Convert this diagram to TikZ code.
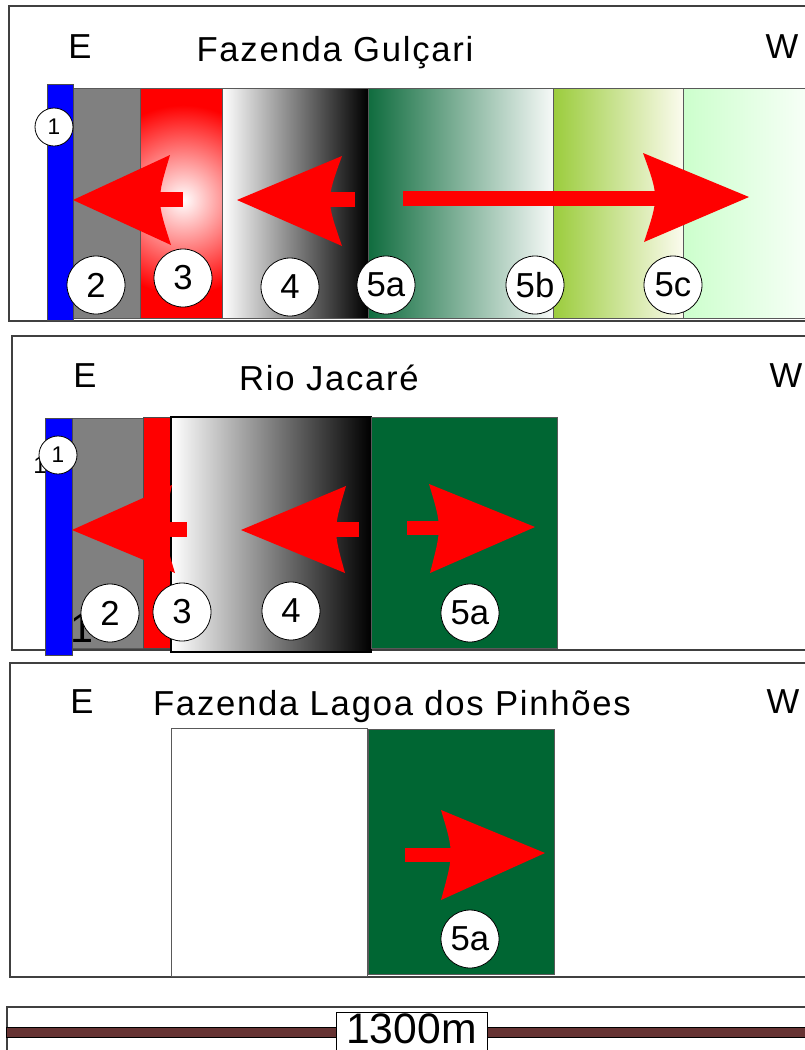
\documentclass[tikz,border=0pt]{standalone}
\usepackage{fontspec}
\setmainfont{Liberation Sans}
\newfontfamily\spaced[LetterSpace=5]{Liberation Sans}
\definecolor{dg}{RGB}{0,102,51}
\definecolor{gA}{RGB}{15,108,62}
\definecolor{gAr}{RGB}{246,249,247}
\definecolor{yg}{RGB}{155,204,60}
\definecolor{ygr}{RGB}{251,251,238}
\definecolor{lg}{RGB}{204,255,204}
\definecolor{barc}{RGB}{102,51,51}
\definecolor{midgray}{RGB}{128,128,128}
\begin{document}
\begin{tikzpicture}[x=0.75pt,y=-0.75pt,
  lbl/.style={circle, draw=black, fill=white, line width=0.6pt, inner sep=0pt, minimum size=43.5pt, font=\fontsize{26}{28}\selectfont},
  slbl/.style={circle, draw=black, fill=white, line width=0.6pt, inner sep=0pt, minimum size=28.5pt, font=\fontsize{17}{19}\selectfont},
  ttl/.style={anchor=base, inner sep=0pt, font=\spaced\fontsize{26}{28}\selectfont},
  band/.style={draw=black!65, line width=0.6pt},
  panel/.style={draw=black!75, line width=1pt},
  arr/.style={fill=red, draw=none}]
\useasboundingbox (0,0) rectangle (805,1050);
\clip (0,0) rectangle (805,1050);
\fill[white] (0,0) rectangle (805,1050);

% ---------------- Panel 1: Fazenda Gulcari
\draw[panel] (9,6) rectangle (830,321);
\filldraw[fill=midgray, band] (73,88) rectangle (140,318);
\begin{scope}
  \clip (140,88) rectangle (222,318);
  \fill[red] (140,88) rectangle (222,318);
  \shade[inner color=white, outer color=red] (183,200) circle[radius=95];
\end{scope}
\draw[band] (140,88) rectangle (222,318);
\shadedraw[left color=white, right color=black, band] (222,88) rectangle (368,318);
\shadedraw[left color=gA, right color=gAr, band] (368,88) rectangle (553,318);
\shadedraw[left color=yg, right color=ygr, band] (553,88) rectangle (683,318);
\shadedraw[left color=lg, right color=white, band] (683,88) rectangle (830,318);
\filldraw[fill=blue, draw=black!70, line width=0.6pt] (47,84) rectangle (73,320);

% arrows
\fill[arr] (73,200) -- (170,155) .. controls (156.5,200) .. (171,245) -- cycle;
\fill[arr] (155,192) rectangle (183,207);
\fill[arr] (237,200) -- (342,156) .. controls (326,200) .. (342,246) -- cycle;
\fill[arr] (325,192) rectangle (355,207);
\fill[arr] (749,197) -- (643,153) .. controls (659,197) .. (644,242) -- cycle;
\fill[arr] (403,191) rectangle (660,206);

\node[ttl] (p1E) at (80,58) {E};
\node[ttl] (p1T) at (335,61) {Fazenda Gulçari};
\node[ttl] (p1W) at (782,58) {W};

\node[slbl] (p1c1) at (54,127) {1};
\node[lbl] (p1c2) at (96,285) {2};
\node[lbl] (p1c3) at (183,278) {3};
\node[lbl] (p1c4) at (290,287) {4};
\node[lbl] (p1c5a) at (386,285) {5a};
\node[lbl] (p1c5b) at (535,285) {5b};
\node[lbl] (p1c5c) at (673,285) {5c};

% ---------------- Panel 2: Rio Jacare
\draw[panel] (12,336) rectangle (830,650);
\filldraw[fill=midgray, band] (72,418) rectangle (143,648);
\filldraw[fill=red, draw=black!70, line width=0.6pt] (143,417) rectangle (170,648);
\shadedraw[left color=white, right color=black, draw=black, line width=0.8pt] (171,417) rectangle (371,652);
\filldraw[fill=dg, band] (371,417) rectangle (557,648);
\filldraw[fill=blue, draw=black!70, line width=0.6pt] (45,418) rectangle (72,655);

\fill[arr] (72,530) -- (172,485) .. controls (162,530) .. (175,573) -- cycle;
\fill[arr] (160,522) rectangle (187,537);
\fill[arr] (241,530) -- (346,486) .. controls (333,530) .. (345,573) -- cycle;
\fill[arr] (332,522) rectangle (359,537);
\fill[arr] (535,527) -- (429,484) .. controls (442,527) .. (430,573) -- cycle;
\fill[arr] (407,521) rectangle (441,535);

\node[ttl] (p2E) at (85,387) {E};
\node[ttl] (p2T) at (329,390) {Rio Jacaré};
\node[ttl] (p2W) at (786,387) {W};

\node[inner sep=0pt, font=\fontsize{18}{20}\selectfont] (p2s1) at (40,465) {1};
\node[inner sep=0pt, font=\fontsize{31}{33}\selectfont] (p2s2) at (82,628) {1};
\node[slbl] (p2c1) at (58,455) {1};
\node[lbl] (p2c2) at (110,613) {2};
\node[lbl] (p2c3) at (182,612) {3};
\node[lbl] (p2c4) at (291,611) {4};
\node[lbl] (p2c5a) at (470,613) {5a};

% ---------------- Panel 3: Fazenda Lagoa dos Pinhoes
\draw[panel] (10,663) rectangle (830,977);
\filldraw[fill=white, band] (171,728) rectangle (367,976);
\filldraw[fill=dg, band] (368,729) rectangle (554,974);
\fill[arr] (545,853) -- (441,810) .. controls (454,853) .. (441,900) -- cycle;
\fill[arr] (405,848) rectangle (453,862);

\node[ttl] (p3E) at (82,713) {E};
\node[ttl] (p3T) at (392,715) {Fazenda Lagoa dos Pinhões};
\node[ttl] (p3W) at (783,713) {W};
\node[lbl] (p3c5a) at (470,939) {5a};

% ---------------- Scale bar
\draw[panel] (7,1007) rectangle (830,1080);
\filldraw[fill=barc, draw=black, line width=0.6pt] (6,1027) rectangle (830,1037);
\filldraw[fill=white, draw=black, line width=0.6pt] (336,1012) rectangle (487,1070);
\node[inner sep=0pt, font=\fontsize{32}{34}\selectfont] (scale) at (411.5,1029) {1300m};
\end{tikzpicture}
\end{document}
